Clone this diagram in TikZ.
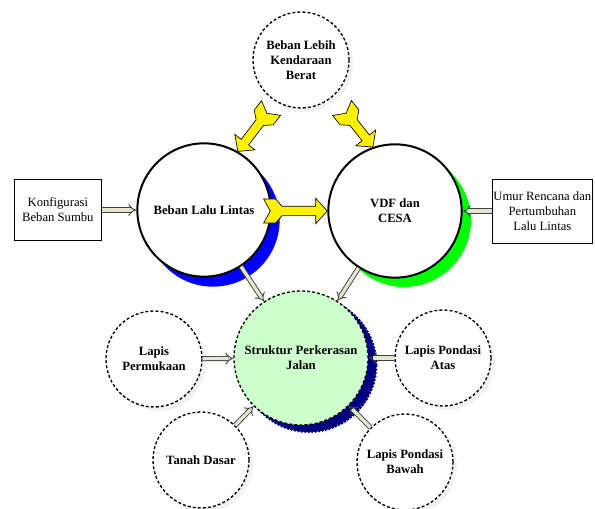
\documentclass[tikz,border=0pt]{standalone}
\usepackage{fontspec}
\setmainfont{Liberation Serif}
\usepackage{tikz}
\usetikzlibrary{arrows.meta,positioning,calc,shadows}
\definecolor{beige}{RGB}{230,230,208}
\definecolor{lightgreen}{RGB}{204,255,204}
\definecolor{navyblue}{RGB}{0,0,128}

% yellow block arrow with forked tail, from tail point #1 to tip #2
\newcommand{\fatarrow}[2]{%
  \path let \p1=($(#2)-(#1)$) in
    \pgfextra{\pgfmathsetmacro\arrang{atan2(\y1,\x1)}%
              \pgfmathsetlengthmacro\arrlen{veclen(\x1,\y1)}%
              \global\let\arrang\arrang \global\let\arrlen\arrlen} (#1);
  \draw[yellowarrow, shift={(#1)}, rotate=\arrang]
    (0pt,9pt) -- (9pt,9pt) -- (13.8pt,3.5pt) -- ({\arrlen-8.7pt},3.5pt)
    -- ({\arrlen-8.7pt},9.5pt) -- (\arrlen,0pt) -- ({\arrlen-8.7pt},-9.5pt)
    -- ({\arrlen-8.7pt},-3.5pt) -- (13.8pt,-3.5pt) -- (9pt,-9pt) -- (0pt,-9pt)
    -- (5pt,0pt) -- cycle;
}

\begin{document}
\fontsize{9.5}{11.3}\selectfont
\begin{tikzpicture}[
    x=0.75pt, y=-0.75pt,
    bigcircle/.style={circle, draw=black, line width=1.5pt, fill=white, minimum size=100pt, inner sep=1pt, align=center, font=\bfseries},
    dashline/.style={draw=black, line width=1pt, dash pattern=on 2.2pt off 1.6pt},
    layer/.style={circle, dashline, fill=white, minimum size=72pt, inner sep=1pt, align=center, font=\bfseries, general shadow={shadow xshift=3pt, shadow yshift=-3pt, fill=black!5}},
    core/.style={circle, dashline, fill=lightgreen, minimum size=100.5pt, inner sep=1pt, align=center, font=\bfseries},
    box/.style={rectangle, draw=black, line width=0.7pt, fill=white, inner xsep=1pt, inner ysep=2pt, align=center},
    conn/.style={draw=black!75, line width=0.7pt, double=beige, double distance=2.4pt, -{Implies[scale=1.5]}},
    yellowarrow/.style={draw=black, line width=0.5pt, fill=yellow, line join=miter}
]
\useasboundingbox (0,0) rectangle (595,509);

% Top
\node[layer] (lebih) at (301,60) {Beban Lebih\\Kendaraan\\Berat};

% Traffic load
\node[bigcircle, general shadow={shadow xshift=6.75pt, shadow yshift=-7.5pt, fill=blue}] (lalu) at (204,210) {Beban Lalu Lintas};
\node[bigcircle, general shadow={shadow xshift=7pt, shadow yshift=-7pt, fill=green}] (vdf) at (395,211) {VDF dan\\CESA};

\node[box, minimum width=65pt, minimum height=46pt, left=26pt of lalu] (konfig) {Konfigurasi\\Beban Sumbu};
\node[box, minimum width=75pt, minimum height=48pt, right=21.75pt of vdf] (umur) {Umur Rencana dan\\Pertumbuhan\\Lalu Lintas};

% Pavement layers
\node[core, general shadow={shadow xshift=6pt, shadow yshift=-5pt, fill=navyblue, draw=navyblue, line width=2.5pt, dash pattern=on 0pt off 2.6pt, line cap=round}] (struktur) at (301,358) {Struktur Perkerasan\\Jalan};
\node[layer] (permukaan) at (154,359) {Lapis\\Permukaan};
\node[layer] (atas) at (443,358) {Lapis Pondasi\\Atas};
\node[layer] (tanah) at (201,460) {Tanah Dasar};
\node[layer] (bawah) at (405,462) {Lapis Pondasi\\Bawah};

% Yellow arrows
\coordinate (tailL) at (271,108);
\coordinate (tailR) at (342,108);
\coordinate (tailH) at ($(lalu.east)+(-8,1)$);
\fatarrow{tailL}{lalu.60}
\fatarrow{tailR}{vdf.109}
\fatarrow{tailH}{vdf.west}

% Connections
\draw[conn] (konfig) -- (lalu);
\draw[conn] (umur) -- (vdf);
\draw[conn] (lalu) -- (struktur);
\draw[conn] (vdf) -- (struktur);
\draw[conn] (permukaan) -- (struktur);
\draw[conn] (atas) -- (struktur);
\draw[conn] (tanah) -- (struktur);
\draw[conn] (bawah) -- (struktur);

\end{tikzpicture}
\end{document}
